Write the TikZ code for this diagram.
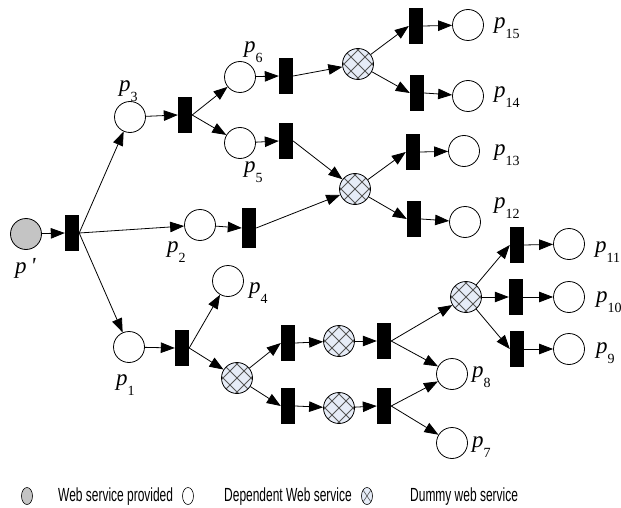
\documentclass[tikz,border=0pt]{standalone}
\usepackage{fontspec}
\setmainfont{Liberation Serif}
\newfontfamily\legendfont[FakeStretch=0.63]{Liberation Sans}
\usetikzlibrary{arrows.meta,calc}
\definecolor{dummyfill}{HTML}{E6ECF7}
\definecolor{hatchcol}{HTML}{555555}
\definecolor{placegray}{HTML}{C4C4C4}
\newcommand\plab[1]{{\fontsize{23}{23}\selectfont\itshape p}\raisebox{-10pt}{\fontsize{14}{14}\selectfont #1}}
\tikzset{
  place/.style={circle,draw,line width=0.8pt,fill=white,minimum size=31pt,inner sep=0pt},
  given/.style={place,fill=placegray},
  dummy/.style={place,fill=dummyfill,path picture={
      \foreach \k in {-2,...,2}{
        \draw[hatchcol,line width=1pt] ([shift={(\k*14-20,-20)}]path picture bounding box.center) -- ++(40,40);
        \draw[hatchcol,line width=1pt] ([shift={(\k*14+20,-20)}]path picture bounding box.center) -- ++(-40,40);
      }}},
  trans/.style={rectangle,fill=black,minimum width=14pt,minimum height=36pt,inner sep=0pt},
  arc/.style={line width=0.8pt,-{Triangle[length=14pt,width=10.5pt]}},
  lab/.style={anchor=base west,inner sep=0pt},
  legtext/.style={anchor=base west,inner sep=0pt,font=\legendfont\fontsize{19}{19}\selectfont},
}
\begin{document}
\begin{tikzpicture}[x=1pt,y=-1pt]
\useasboundingbox (0,0) rectangle (621,508);
% places
\node[given] (pp) at (26,234) {};
\node[place] (p3) at (130,117) {};
\node[place] (p6) at (240,77) {};
\node[place] (p5) at (240,143) {};
\node[place] (p15) at (468,25) {};
\node[place] (p14) at (468,96) {};
\node[place] (p13) at (464,151) {};
\node[place] (p12) at (465,222) {};
\node[place] (p2) at (200,225) {};
\node[place] (p1) at (129,347) {};
\node[place] (p4) at (228,281) {};
\node[place] (p8) at (452,374) {};
\node[place] (p7) at (452,443) {};
\node[place] (p11) at (569,244) {};
\node[place] (p10) at (569,297) {};
\node[place] (p9) at (569,349) {};
% dummy places
\node[dummy] (d1) at (358,64) {};
\node[dummy] (d2) at (355,189) {};
\node[dummy] (d3) at (237,378) {};
\node[dummy] (d4) at (339,341) {};
\node[dummy] (d5) at (339,408) {};
\node[dummy] (d6) at (466,297) {};
% transitions
\node[trans] (t0) at (72,233) {};
\node[trans] (t3) at (185,115) {};
\node[trans] (t6) at (286,76) {};
\node[trans] (t5) at (286,141) {};
\node[trans] (t15) at (416,26) {};
\node[trans] (t14) at (417,93) {};
\node[trans] (t13) at (413,152) {};
\node[trans] (t12) at (414,219) {};
\node[trans,minimum height=40pt] (t2) at (249,228) {};
\node[trans] (t1) at (182,348) {};
\node[trans] (tu) at (288,343) {};
\node[trans] (tl) at (288,406) {};
\node[trans] (tu2) at (384,341) {};
\node[trans] (tl2) at (384,406) {};
\node[trans] (t11) at (517,245) {};
\node[trans] (t10) at (516,297) {};
\node[trans] (t9) at (517,349) {};
% arcs
\draw[arc] (pp) -- (t0.west);
\draw[arc] (t0.east) -- (p3);
\draw[arc] (t0.east) -- (p2);
\draw[arc] (t0.east) -- (p1);
\draw[arc] (p3) -- (t3.west);
\draw[arc] (t3.east) -- (p6);
\draw[arc] (t3.east) -- (p5);
\draw[arc] (p6) -- (t6.west);
\draw[arc] (p5) -- (t5.west);
\draw[arc] (t6.east) -- (d1);
\draw[arc] (t5.east) -- (d2);
\draw[arc] (d1) -- (t15.west);
\draw[arc] (d1) -- (t14.west);
\draw[arc] (t15.east) -- (p15);
\draw[arc] (t14.east) -- (p14);
\draw[arc] (p2) -- (t2.west);
\draw[arc] (t2.east) -- (d2);
\draw[arc] (d2) -- (t13.west);
\draw[arc] (d2) -- (t12.west);
\draw[arc] (t13.east) -- (p13);
\draw[arc] (t12.east) -- (p12);
\draw[arc] (p1) -- (t1.west);
\draw[arc] (t1.east) -- (p4);
\draw[arc] (t1.east) -- (d3);
\draw[arc] (d3) -- (tu.west);
\draw[arc] (d3) -- (tl.west);
\draw[arc] (tu.east) -- (d4);
\draw[arc] (tl.east) -- (d5);
\draw[arc] (d4) -- (tu2.west);
\draw[arc] (d5) -- (tl2.west);
\draw[arc] (tu2.east) -- (d6);
\draw[arc] (tu2.east) -- (p8);
\draw[arc] (tl2.east) -- (p8);
\draw[arc] (tl2.east) -- (p7);
\draw[arc] (d6) -- (t11.west);
\draw[arc] (d6) -- (t10.west);
\draw[arc] (d6) -- (t9.west);
\draw[arc] (t11.east) -- (p11);
\draw[arc] (t10.east) -- (p10);
\draw[arc] (t9.east) -- (p9);
% labels
\node[lab] (lpp) at (15,273) {{\fontsize{23}{23}\selectfont\itshape p\,\textquotesingle}};
\node[lab] (l3) at (119,92) {\plab{3}};
\node[lab] (l6) at (244,53) {\plab{6}};
\node[lab] (l5) at (244,172) {\plab{5}};
\node[lab] (l15) at (494,29) {\plab{15}};
\node[lab] (l14) at (494,98) {\plab{14}};
\node[lab] (l13) at (494,155) {\plab{13}};
\node[lab] (l12) at (494,208) {\plab{12}};
\node[lab] (l2) at (167,252) {\plab{2}};
\node[lab] (l1) at (116,385) {\plab{1}};
\node[lab] (l4) at (249,293) {\plab{4}};
\node[lab] (l8) at (472,377) {\plab{8}};
\node[lab] (l7) at (472,447) {\plab{7}};
\node[lab] (l11) at (595,252) {\plab{11}};
\node[lab] (l10) at (596,302) {\plab{10}};
\node[lab] (l9) at (596,353) {\plab{9}};
% legend
\draw[line width=0.6pt,fill=placegray] (27,496) ellipse [x radius=5.5,y radius=8.5];
\node[legtext] (lg1) at (58,501) {Web service provided};
\draw[line width=0.6pt,fill=white] (188,496) ellipse [x radius=5.5,y radius=8.5];
\node[legtext] (lg2) at (224,501) {Dependent Web service};
\draw[line width=0.6pt,fill=dummyfill] (367,496) ellipse [x radius=5.5,y radius=8.5];
\draw[hatchcol,line width=0.6pt] (363,490) -- (371,502) (371,490) -- (363,502);
\node[legtext] (lg3) at (410,501) {Dummy web service};
\end{tikzpicture}
\end{document}
